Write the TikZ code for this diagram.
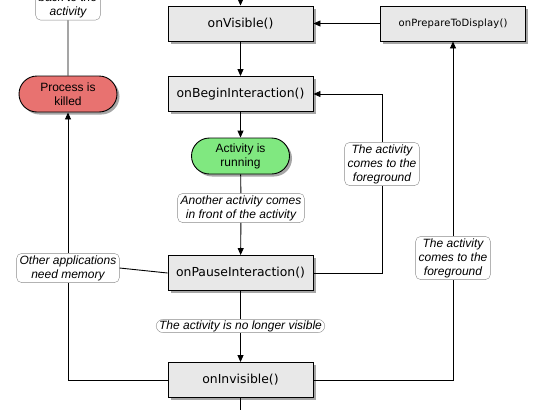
\documentclass[tikz,border=0pt]{standalone}
\usepackage{fontspec}
\setmainfont{Liberation Sans}
\newfontfamily\methfont{DejaVu Sans}
\newfontfamily\prepfont[LetterSpace=1.5]{DejaVu Sans}
\usetikzlibrary{shadows,arrows.meta,shapes.misc}
\definecolor{boxgray}{RGB}{232,232,232}
\definecolor{killred}{RGB}{232,114,112}
\definecolor{rungreen}{RGB}{128,232,128}
\definecolor{lblgray}{RGB}{140,140,140}
\begin{document}
\begin{tikzpicture}[x=1pt,y=-1pt,
  shadowed/.style={drop shadow={shadow xshift=2.5pt,shadow yshift=-2.5pt,opacity=0.35,fill=black}},
  method/.style={draw=black,line width=0.9pt,fill=boxgray,minimum width=145pt,minimum height=35pt,
    inner sep=0pt,font=\methfont\fontsize{12.4}{14}\selectfont,shadowed},
  smallmethod/.style={method,font=\prepfont\fontsize{10}{12}\selectfont},
  pill/.style={rounded rectangle,draw=black,line width=0.9pt,minimum width=98pt,minimum height=36pt,
    inner sep=0pt,align=center,font=\fontsize{12}{14}\selectfont,shadowed},
  lbl/.style={draw=lblgray,fill=white,rounded corners=5pt,align=center,inner xsep=3pt,inner ysep=2pt,
    font=\itshape\fontsize{12}{14}\selectfont},
  conn/.style={line width=0.9pt,draw=black},
  arr/.style={conn,-{Triangle[length=7pt,width=6pt]}}]
\useasboundingbox (0,0) rectangle (545,410);
\clip (0,0) rectangle (545,410);

% nodes
\node[lbl] (back) at (68,-2) {\strut\\back to the\\activity};
\node[pill,fill=killred] (killed) at (68,94) {Process is\\killed};
\node[method] (vis) at (240.5,23.5) {onVisible()};
\node[method] (begin) at (240.5,94) {onBeginInteraction()};
\node[smallmethod] (prep) at (453,23.5) {onPrepareToDisplay()};
\node[pill,fill=rungreen] (run) at (240.5,156) {Activity is\\running};
\node[lbl] (another) at (241,208) {Another activity comes\\in front of the activity};
\node[method] (pause) at (240.5,273) {onPauseInteraction()};
\node[lbl,rounded corners=7pt,inner ysep=1pt] (nolonger) at (240.5,326) {The activity is no longer visible};
\node[method] (invis) at (240.5,380) {onInvisible()};
\node[lbl] (fgone) at (382,164) {The activity\\comes to the\\foreground};
\node[lbl] (fgtwo) at (453,258) {The activity\\comes to the\\foreground};
\node[lbl] (mem) at (68,268) {Other applications\\need memory};

\coordinate (topin) at (240.5,0);
\coordinate (botout) at (240.5,410);

% connectors
\draw[arr] (topin) -- (vis.north);
\draw[arr] (vis) -- (begin);
\draw[arr] (begin) -- (run);
\draw[conn] (run) -- (another);
\draw[arr] (another) -- (pause);
\draw[conn] (pause) -- (nolonger);
\draw[arr] (nolonger) -- (invis);
\draw[conn] (invis) -- (botout);
\draw[arr] (prep) -- (vis);
\draw[conn] (invis.east) -| (fgtwo.south);
\draw[arr] (fgtwo) -- (prep);
\draw[conn] (pause.east) -| (fgone.south);
\draw[arr] (fgone.north) |- (begin.east);
\draw[conn] (invis.west) -| (mem.south);
\draw[arr] (mem) -- (killed);
\draw[conn] (pause.west) -- (mem.east);
\draw[conn] (killed) -- (back);
\end{tikzpicture}
\end{document}
